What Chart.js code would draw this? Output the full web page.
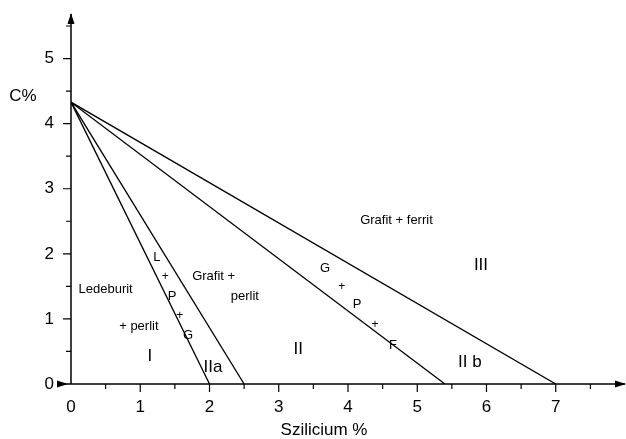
<!DOCTYPE html>
<html>
<head>
<meta charset="utf-8">
<script src="https://cdn.jsdelivr.net/npm/chart.js@4.4.0/dist/chart.umd.min.js"></script>
<style>
  html, body { margin: 0; padding: 0; background: #fff; }
  #wrap { width: 626px; height: 439px; }
</style>
</head>
<body>
<div id="wrap"><canvas id="myChart"></canvas></div>
<script>
// common starting point of all boundary lines (Si = 0, C ~ 4.3)
var startC = 4.33;
// where each boundary line meets C = 0
var endSi = [2.0, 2.5, 5.4, 7.0];

var xTicks = [0, 1, 2, 3, 4, 5, 6, 7];
var yTicks = [0, 1, 2, 3, 4, 5];

// region labels: text, x (Si %), y (C %), font size
var labelText = ['Ledeburit', '+ perlit', 'I', 'IIa', 'L', '+', 'P', '+', 'G',
  'Grafit +', 'perlit', 'II', 'Grafit + ferrit', 'G', '+', 'P', '+', 'F', 'III', 'II b'];
var labelX = [0.5, 0.98, 1.14, 2.05, 1.24, 1.36, 1.46, 1.57, 1.69,
  2.06, 2.51, 3.28, 4.7, 3.67, 3.91, 4.13, 4.39, 4.65, 5.92, 5.76];
var labelY = [1.45, 0.89, 0.43, 0.26, 1.94, 1.65, 1.35, 1.05, 0.75,
  1.66, 1.35, 0.54, 2.52, 1.78, 1.49, 1.22, 0.91, 0.6, 1.82, 0.34];
var labelSize = [13, 13, 17, 17, 13, 12, 13, 12, 13,
  13, 13, 17, 13, 13, 12, 13, 12, 13, 17, 17];

var FONT = '"Liberation Sans", Arial, sans-serif';

var datasets = endSi.map(function (e) {
  return {
    data: [{x: 0, y: startC}, {x: e, y: 0}],
    showLine: true,
    borderColor: '#000',
    borderWidth: 1.3,
    pointRadius: 0,
    fill: false
  };
});

function arrow(ctx, x, y, dir) {
  ctx.beginPath();
  if (dir == 'up') {
    ctx.moveTo(x, y); ctx.lineTo(x - 3.5, y + 11); ctx.lineTo(x + 3.5, y + 11);
  } else {
    ctx.moveTo(x, y); ctx.lineTo(x - 11, y - 3.5); ctx.lineTo(x - 11, y + 3.5);
  }
  ctx.closePath();
  ctx.fill();
}

var decor = {
  id: 'decor',
  afterDraw: function (chart) {
    var ctx = chart.ctx;
    var xs = chart.scales.x, ys = chart.scales.y;
    var x0 = xs.getPixelForValue(0), y0 = ys.getPixelForValue(0);
    ctx.save();
    ctx.strokeStyle = '#000';
    ctx.fillStyle = '#000';
    ctx.lineWidth = 1.5;
    // axis lines
    ctx.beginPath();
    ctx.moveTo(60, y0); ctx.lineTo(xs.getPixelForValue(8), y0);
    ctx.moveTo(x0, y0); ctx.lineTo(x0, 14);
    ctx.stroke();
    arrow(ctx, x0, 13, 'up');
    arrow(ctx, xs.getPixelForValue(8) + 1, y0, 'right');
    arrow(ctx, 68, y0, 'right');
    // tick marks
    ctx.lineWidth = 1.2;
    ctx.beginPath();
    for (var v = 0.5; v < 8; v += 0.5) {
      var px = xs.getPixelForValue(v);
      ctx.moveTo(px, y0); ctx.lineTo(px, y0 + (v % 1 == 0 ? 8 : 5));
    }
    for (var w = 0.5; w <= 5.5; w += 0.5) {
      var py = ys.getPixelForValue(w);
      ctx.moveTo(x0, py); ctx.lineTo(x0 - (w % 1 == 0 ? 8 : 5), py);
    }
    ctx.stroke();
    // axis titles
    ctx.font = '17px ' + FONT;
    ctx.textAlign = 'center';
    ctx.textBaseline = 'middle';
    ctx.fillText('C%', 23, 96);
    ctx.fillText('Szilicium %', 324, 430);
    // region labels
    for (var i = 0; i < labelText.length; i++) {
      ctx.font = labelSize[i] + 'px ' + FONT;
      ctx.fillText(labelText[i], xs.getPixelForValue(labelX[i]), ys.getPixelForValue(labelY[i]));
    }
    ctx.restore();
  }
};

new Chart(document.getElementById('myChart').getContext('2d'), {
  type: 'scatter',
  data: { datasets: datasets },
  options: {
    responsive: true,
    maintainAspectRatio: false,
    animation: false,
    layout: { padding: { top: 26, right: 1, left: 0, bottom: 0 } },
    plugins: { legend: { display: false }, tooltip: { enabled: false } },
    scales: {
      x: {
        type: 'linear', min: 0, max: 8,
        grid: { display: false }, border: { display: false },
        afterFit: function (s) { s.height = 55; },
        afterBuildTicks: function (s) { s.ticks = xTicks.map(function (v) { return {value: v}; }); },
        ticks: { color: '#000', padding: 5, font: { size: 17, family: FONT } }
      },
      y: {
        type: 'linear', min: 0, max: 5.5,
        grid: { display: false }, border: { display: false },
        afterFit: function (s) { s.width = 71; },
        afterBuildTicks: function (s) { s.ticks = yTicks.map(function (v) { return {value: v}; }); },
        ticks: { color: '#000', padding: 9, font: { size: 17, family: FONT } }
      }
    }
  },
  plugins: [decor]
});
</script>
</body>
</html>
